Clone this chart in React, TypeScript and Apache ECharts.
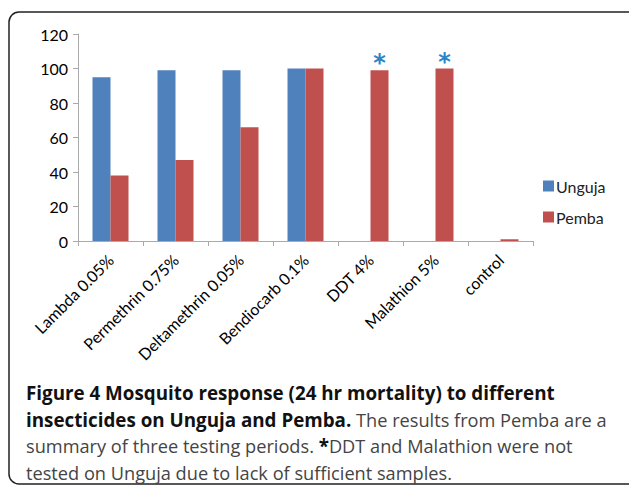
import React, { useEffect, useRef } from "react";
import * as echarts from "echarts";

const categories = [
  "Lambda 0.05%",
  "Permethrin 0.75%",
  "Deltamethrin 0.05%",
  "Bendiocarb 0.1%",
  "DDT 4%",
  "Malathion 5%",
  "control",
];
const unguja: (number | null)[] = [95, 99, 99, 100, null, null, null];
const pemba: number[] = [38, 47, 66, 100, 99, 100, 1];
const notTestedOnUnguja = ["DDT 4%", "Malathion 5%"];
const yTicks = { min: 0, max: 120, interval: 20 };

const captionLines: { b: string; n: string }[] = [
  { b: "Figure 4 Mosquito response (24 hr mortality) to different", n: "" },
  { b: "insecticides on Unguja and Pemba.", n: " The results from Pemba are a" },
  { b: "", n: "summary of three testing periods. " },
  { b: "", n: "tested on Unguja due to lack of sufficient samples." },
];

export default function App() {
  const ref = useRef<HTMLDivElement>(null);
  useEffect(() => {
    if (!ref.current) return;
    const chart = echarts.init(ref.current, null, { renderer: "svg" });
    const F = "Lato, 'Open Sans', sans-serif";
    const CF = "'Open Sans', sans-serif";
    const rich = {
      b: { fontFamily: CF, fontSize: 18.8, fontWeight: "bold", fill: "#111" },
      n: { fontFamily: CF, fontSize: 18.2, fill: "#444" },
    };
    const capText = (i: number) => {
      const l = captionLines[i];
      let s = "";
      if (l.b) s += "{b|" + l.b + "}";
      if (i === 2) s += "{n|" + l.n + "}{b|*}{n|DDT and Malathion were not}";
      else if (l.n) s += "{n|" + l.n + "}";
      return s;
    };
    chart.setOption({
      animation: false,
      grid: { left: 78, right: 96, top: 34, bottom: 244, containLabel: false },
      legend: {
        orient: "vertical",
        left: 543,
        top: 178,
        padding: 0,
        itemWidth: 11,
        itemHeight: 11,
        itemGap: 15,
        icon: "rect",
        textStyle: { fontFamily: F, fontSize: 16, color: "#222", padding: [0, 0, 0, -3] },
        data: ["Unguja", "Pemba"],
      },
      xAxis: {
        type: "category",
        data: categories,
        axisLine: { lineStyle: { color: "#aaaaaa", width: 1 } },
        axisTick: { show: true, length: 5, lineStyle: { color: "#aaaaaa" } },
        axisLabel: {
          rotate: 45,
          interval: 0,
          margin: 16,
          fontFamily: F,
          fontSize: 16,
          color: "#000",
        },
      },
      yAxis: {
        type: "value",
        min: yTicks.min,
        max: yTicks.max,
        interval: yTicks.interval,
        axisLine: { show: true, lineStyle: { color: "#aaaaaa", width: 1 } },
        axisTick: { show: true, length: 5, lineStyle: { color: "#aaaaaa" } },
        splitLine: { show: false },
        axisLabel: { fontFamily: F, fontSize: 16, color: "#000", margin: 10 },
      },
      series: [
        {
          name: "Unguja",
          type: "bar",
          data: unguja,
          barWidth: 18,
          barGap: "0%",
          itemStyle: { color: "#4f81bd" },
        },
        {
          name: "Pemba",
          type: "bar",
          barWidth: 18,
          barGap: "0%",
          itemStyle: { color: "#c0504d" },
          data: pemba.map((v, i) =>
            notTestedOnUnguja.includes(categories[i])
              ? {
                  value: v,
                  label: {
                    show: true,
                    position: "top",
                    formatter: "*",
                    distance: -5,
                    fontSize: 24,
                    fontWeight: "bold",
                    fontFamily: "'DejaVu Sans', sans-serif",
                    color: "#2a86c8",
                  },
                }
              : v
          ),
        },
      ],
      graphic: [
        {
          type: "rect",
          shape: { x: 9, y: 12, width: 630, height: 472, r: 10 },
          style: { fill: "none", stroke: "#222", lineWidth: 1.5 },
          silent: true,
        },
        ...captionLines.map((_, i) => ({
          type: "text",
          x: 26,
          y: 393 + i * 26.5,
          style: {
            text: capText(i),
            rich,
            fontFamily: CF,
            fontSize: 18.5,
            verticalAlign: "middle",
            align: "left",
          },
        })),
      ],
    });
    return () => chart.dispose();
  }, []);
  return (
    <div
      ref={ref}
      style={{ position: "fixed", left: 0, top: 0, width: 629, height: 485, background: "#fff" }}
    />
  );
}
